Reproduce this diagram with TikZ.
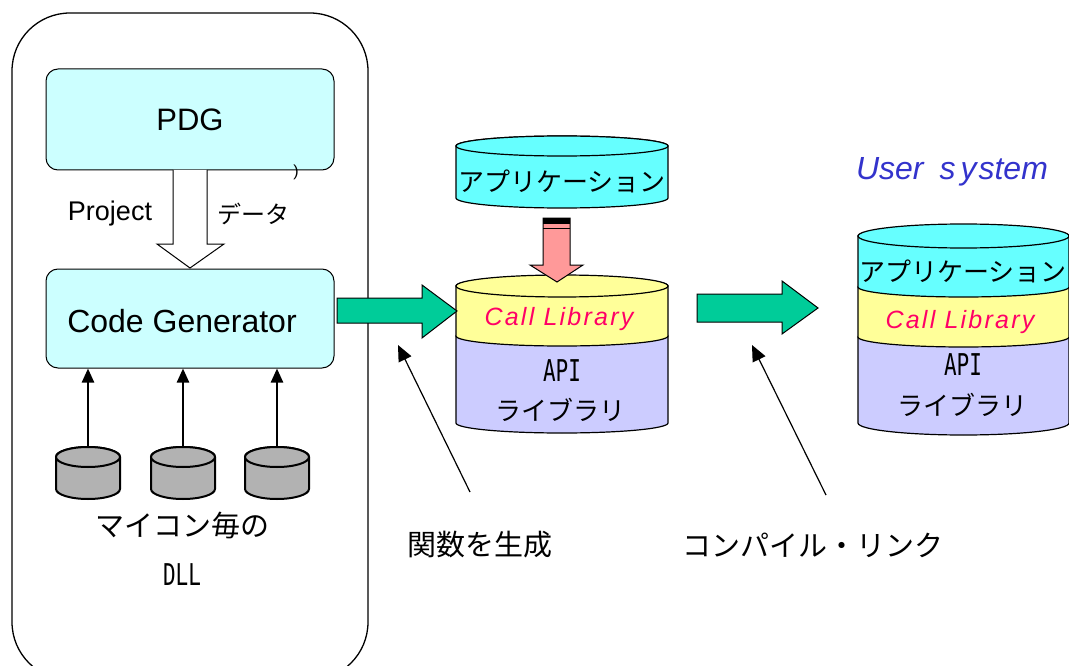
\documentclass[tikz,border=0pt]{standalone}
\usepackage{fontspec}
\setmainfont{Liberation Sans}
\newfontfamily\jp{Noto Sans CJK JP}
\newfontfamily\halfw[FakeStretch=0.7]{DejaVu Sans Mono}
\newfontfamily\callfont[LetterSpace=9]{Liberation Sans}
\usetikzlibrary{positioning, arrows.meta}

\definecolor{boxcyan}{HTML}{CCFFFF}
\definecolor{appcyan}{HTML}{66FFFF}
\definecolor{libyellow}{HTML}{FFFF99}
\definecolor{apiblue}{HTML}{CCCCFF}
\definecolor{dllgray}{HTML}{B2B2B2}
\definecolor{flowgreen}{HTML}{00CC99}
\definecolor{callpink}{HTML}{FF9999}
\definecolor{callred}{HTML}{FF0066}
\definecolor{userblue}{HTML}{3333CC}

% band of a cylinder: left, right, top, bottom, y radius, colour
\newcommand{\cylband}[6]{%
  \filldraw[fill=#6] (#1,#3) -- (#1,#4) arc (180:0:{((#2)-(#1))/2} and #5)
    -- (#2,#3) arc (0:-180:{((#2)-(#1))/2} and #5) -- cycle;}
% top lid: left, right, centre y, y radius, colour
\newcommand{\cyllid}[5]{%
  \filldraw[fill=#5] ({((#1)+(#2))/2},#3) ellipse ({((#2)-(#1))/2} and #4);}

\begin{document}
\begin{tikzpicture}[x=1pt,y=1pt,yscale=-1,
    every node/.style={inner sep=0pt},
    toolbox/.style={draw, fill=boxcyan, rounded corners=12pt, line width=1pt,
      minimum width=288pt, font=\fontsize{31}{36}\selectfont},
    jptext/.style={font=\jp\fontsize{#1}{#1}\selectfont},
    halftext/.style={font=\halfw\fontsize{30}{32}\selectfont},
    calltext/.style={font=\callfont\itshape\fontsize{25}{28}\selectfont, text=callred},
    blockarrow/.style={draw, line width=1pt},
    pointer/.style={line width=1.2pt, -{Triangle[length=16pt,width=14pt]}},
    feed/.style={line width=2.4pt, -{Triangle[length=14pt,width=12pt]}}]
  \path[use as bounding box, clip] (0,0) rectangle (1069,666);

  % PDG side
  \draw[rounded corners=58pt, line width=1.3pt] (12,13) rectangle (368,680);
  \node[toolbox, minimum height=101pt] (pdg) at (190,119.5) {PDG};
  \node[font=\fontsize{16}{16}\selectfont] (paren) at (296,172) {)};
  \node[toolbox, minimum height=99pt] (cg) at (190,318.5) {};
  \node[font=\fontsize{32}{36}\selectfont] (cgtext) at (182,321) {Code Generator};
  \filldraw[fill=white, line width=1pt] (173,170) -- (173,244) -- (157,244) -- (190,268)
    -- (224,244) -- (207,244) -- (207,170);
  \node[font=\fontsize{27}{30}\selectfont] (proj) at (110,214) {Project};
  \node[jptext=24] (data) at (253,214) {データ};

  % DLLs
  \begin{scope}[line width=2pt]
    \foreach \x/\n in {88/1,183/2,277/3} {
      \cylband{\x-32}{\x+32}{457}{489}{10}{dllgray}
      \cyllid{\x-32}{\x+32}{457}{10}{dllgray}
      \coordinate (dll\n) at (\x,447);
      \draw[feed] (dll\n) -- (dll\n |- cg.south);
    }
  \end{scope}
  \node[jptext=29] (mcu) at (182,526) {マイコン毎の};
  \node[halftext] (dll) at (182,575) {DLL};

  % library
  \begin{scope}[line width=1.2pt]
    \cylband{456}{668}{146}{198}{10}{appcyan}
    \cyllid{456}{668}{146}{10}{appcyan}
    \cylband{456}{668}{336}{423}{10}{apiblue}
    \cylband{456}{668}{286}{336}{10}{libyellow}
    \cyllid{456}{668}{286}{11}{libyellow}
  \end{scope}
  \node[jptext=26] (app) at (562,181) {アプリケーション};
  \node[calltext] (call) at (559,319) {Call Library};
  \node[halftext] (api) at (562,371) {API};
  \node[jptext=26] (lib) at (560,410) {ライブラリ};

  \filldraw[fill=callpink, line width=1pt] (543,218) -- (543,265) -- (530,265) -- (557,282)
    -- (583,265) -- (570,265) -- (570,218) -- cycle;
  \fill (543,218) rectangle (570,224);
  \draw[line width=1.6pt] (543,228.5) -- (570,228.5);

  % user system
  \node[font=\itshape\fontsize{32}{36}\selectfont, text=userblue] (user) at (952,172)
    {User\hspace{16pt}s\hspace{5pt}y\hspace{2pt}stem};
  \begin{scope}[line width=1.2pt]
    \cylband{858}{1069}{337}{423}{12}{apiblue}
    \cylband{858}{1069}{287}{337}{10}{libyellow}
    \cylband{858}{1069}{236}{287}{10}{appcyan}
    \cyllid{858}{1069}{236}{12}{appcyan}
  \end{scope}
  \node[jptext=26] (app2) at (963,271) {アプリケーション};
  \node[calltext] (call2) at (960,322) {Call Library};
  \node[halftext] (api2) at (963,365) {API};
  \node[jptext=26] (lib2) at (962,405) {ライブラリ};

  % flow
  \filldraw[fill=flowgreen, blockarrow] (337,298) -- (422,298) -- (422,285) -- (457,311)
    -- (422,338) -- (422,323) -- (337,323) -- cycle;
  \filldraw[fill=flowgreen, blockarrow] (697,294) -- (782,294) -- (782,281) -- (818,308)
    -- (782,334) -- (782,322) -- (697,322) -- cycle;

  \node[jptext=29] (gen) at (480,545) {関数を生成};
  \node[jptext=29] (link) at (813,545) {コンパイル・リンク};
  \coordinate (genfrom) at (470,492);
  \coordinate (gento) at (398,345);
  \coordinate (linkfrom) at (826,495);
  \coordinate (linkto) at (752,345);
  \draw[pointer] (genfrom) -- (gento);
  \draw[pointer] (linkfrom) -- (linkto);
\end{tikzpicture}
\end{document}
